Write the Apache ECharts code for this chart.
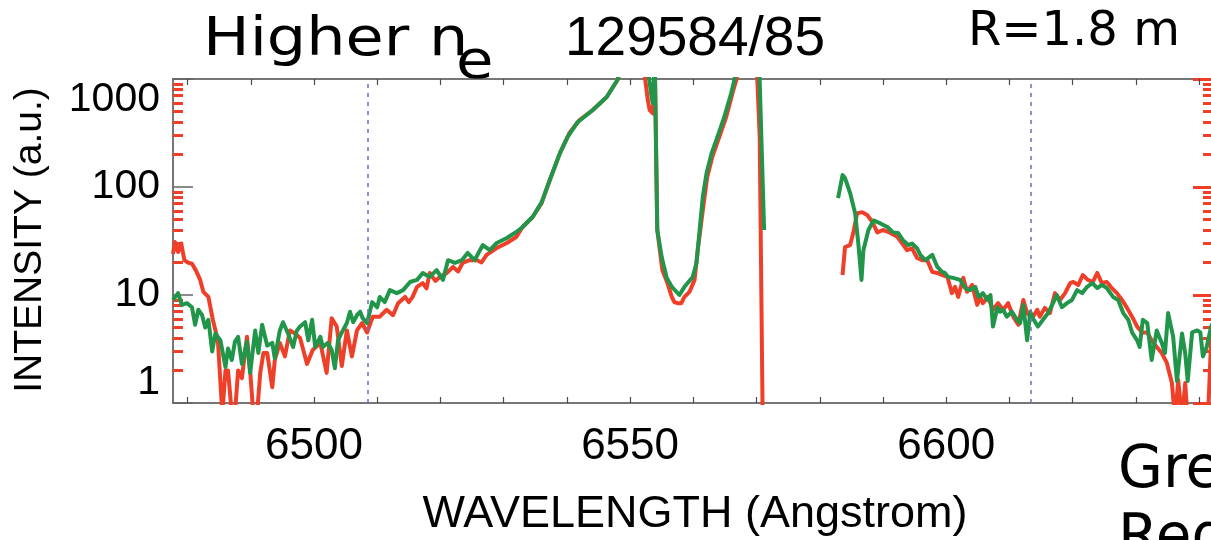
<!DOCTYPE html>
<html>
<head>
<meta charset="utf-8">
<script src="https://cdn.jsdelivr.net/npm/echarts@6.0.0/dist/echarts.min.js"></script>
<style>
html,body{margin:0;padding:0;overflow:hidden;background:#fff;}
#chart{width:1214px;height:540px;}
</style>
</head>
<body>
<div id="chart"></div>
<script>
// ---- data (wavelength in Angstrom, intensity in a.u.) ----
var xRange = [6477.7, 6642.2];
var xTickValues = [6480,6490,6500,6510,6520,6530,6540,6550,6560,6570,6580,6590,6600,6610,6620,6630,6640];
var xLabelValues = [6500, 6550, 6600];
var yMajorValues = [1, 10, 100, 1000];
var yMinorValues = [2,3,4,5,6,7,8,9,20,30,40,50,60,70,80,90,200,300,400,500,600,700,800,900];
var dashedLines = [6508.5, 6613.4];

var redSpectrum = [
[6477.7,24],[6478.0,31],[6478.5,25],[6479.0,30],[6479.5,21],[6480.0,20],[6480.7,19.5],[6481.3,17],[6482.0,13.8],[6482.5,10.7],
[6483.3,9.6],[6484.0,5.9],[6484.8,3.8],[6485.5,0.8],[6486.0,2.0],[6486.4,2.0],[6487.0,0.8],[6487.5,0.8],[6488.0,2.0],[6488.6,1.7],
[6489.4,4.1],[6489.9,2.0],[6490.4,0.8],[6491.0,0.8],[6491.5,1.9],[6492.0,2.9],[6492.6,2.9],[6493.4,1.4],[6493.8,2.5],[6494.6,3.6],
[6495.4,2.7],[6496.2,4.7],[6497.0,4.4],[6497.8,4.0],[6498.9,2.3],[6499.8,3.1],[6501.0,3.6],[6502.0,1.9],[6502.8,6.1],[6503.6,5.1],
[6504.4,2.2],[6505.2,4.7],[6506.0,2.7],[6506.8,4.7],[6507.6,5.5],[6508.4,4.5],[6509.3,6.3],[6510.4,6.3],[6511.5,7.3],[6512.5,6.5],
[6513.3,8.4],[6514.4,9.6],[6515.0,8.6],[6515.6,9.6],[6516.3,11.9],[6517.2,12.9],[6517.8,11.5],[6518.3,16],[6519.2,13.5],[6519.9,14.7],
[6521.0,16],[6522.0,18.2],[6522.8,16.5],[6523.5,19.8],[6524.6,21],[6525.8,21],[6526.5,20],[6527.3,23.5],[6528.9,27.2],[6530.5,30.3],
[6532.0,34.4],[6533.0,42.6],[6534.6,52.7],[6536.0,71],[6537.3,116],[6538.9,206],[6540.4,316],[6542.0,417],[6544.1,516],[6546.3,681],
[6548.0,980],[6549.0,1500],[6552.0,1500],[6552.8,640],[6553.1,516],[6553.6,480],[6553.9,1500],[6554.1,1500],[6554.3,40],[6555.1,17],
[6555.9,12.9],[6556.6,9.6],[6557.0,8.6],[6557.5,8.4],[6558.1,8.4],[6558.6,9.6],[6559.4,10.7],[6560.2,13.8],[6560.7,26],[6561.5,61],
[6562.2,124],[6563.0,190],[6564.1,290],[6565.2,445],[6566.2,742],[6566.8,980],[6567.5,1500],[6570.0,1500],[6570.5,290],[6571.0,0.5],
[6577.0,null],
[6583.6,15.3],[6584.0,27.8],[6584.8,29],[6585.3,37.5],[6585.9,57],[6586.7,58.5],[6587.5,55],[6588.3,47.5],[6589.1,38],[6590.0,40],
[6591.2,37.5],[6592.3,34.4],[6593.0,30.3],[6593.8,26],[6594.6,27],[6595.4,22],[6596.2,21],[6597.0,21],[6597.8,16.3],[6598.6,16],
[6599.4,15.3],[6600.2,14.7],[6600.9,10.4],[6601.4,11.9],[6601.9,9.6],[6602.7,14.4],[6603.3,10.7],[6604.1,12.4],[6604.9,8.1],[6605.4,9.6],
[6605.8,8.4],[6606.6,9.6],[6607.4,7.3],[6608.2,8.4],[6609.0,7.3],[6609.8,8.4],[6610.6,6.3],[6611.4,5.3],[6612.2,9.0],[6612.8,6.8],
[6613.6,6.1],[6614.4,7.3],[6614.8,6.3],[6615.6,7.6],[6616.4,6.8],[6617.2,10.4],[6618.0,9.0],[6618.8,10.4],[6619.6,12.9],[6620.1,13.2],
[6620.9,12.4],[6621.6,15.3],[6622.4,13.8],[6623.2,13.2],[6623.9,16],[6624.6,12.9],[6625.4,13.2],[6626.2,11.6],[6627.0,10.4],[6627.8,9.0],
[6628.6,7.6],[6629.4,6.3],[6630.2,5.1],[6631.0,4.5],[6631.8,4.5],[6632.5,3.8],[6633.3,3.3],[6634.1,2.9],[6634.9,2.35],[6635.7,1.53],
[6636.2,0.7],[6636.7,1.63],[6637.3,0.7],[6637.8,1.53],[6638.2,0.7],[6638.9,0.7],[6640.2,0.7],[6641.4,0.7],[6641.9,3.8],[6642.4,4]
];

var greenSpectrum = [
[6477.7,9.0],[6478.5,10.4],[6479.1,8.1],[6479.9,8.4],[6480.7,7.7],[6481.2,5.3],[6481.7,7.3],[6482.3,6.5],[6482.8,5.0],[6483.3,5.9],
[6483.9,3.0],[6484.4,4.4],[6485.2,3.8],[6486.0,2.15],[6486.4,3.2],[6487.0,2.5],[6487.5,3.7],[6488.0,4.1],[6488.6,2.3],[6489.4,3.7],
[6489.9,1.9],[6490.7,4.7],[6491.2,2.9],[6491.8,5.3],[6492.6,3.4],[6493.4,3.6],[6493.8,2.6],[6494.6,4.7],[6495.1,5.6],[6495.9,4.4],
[6496.7,3.3],[6497.3,4.7],[6497.8,5.1],[6498.6,5.6],[6499.1,3.8],[6499.7,5.9],[6500.2,3.3],[6501.0,4.1],[6501.4,3.3],[6502.2,3.6],
[6502.8,3.1],[6503.3,2.1],[6503.8,3.8],[6504.4,4.5],[6505.2,5.5],[6505.7,7.0],[6506.2,5.6],[6506.8,6.5],[6507.3,7.0],[6507.7,6.1],
[6508.4,5.5],[6509.2,8.6],[6510.0,7.7],[6510.4,9.6],[6511.2,8.6],[6512.0,11.1],[6513.1,10.4],[6514.1,11.1],[6515.2,13.2],[6516.3,13.8],
[6517.2,16],[6518.3,14.7],[6519.4,17],[6520.4,13.8],[6521.2,21],[6522.3,19.8],[6523.4,21],[6524.3,24.5],[6525.4,21],[6526.7,29],
[6527.8,26],[6528.9,30.3],[6530.5,33.7],[6532.0,38.3],[6533.0,42.6],[6534.6,53],[6536.0,72],[6537.3,116],[6538.9,206],[6540.1,290],
[6541.7,398],[6544.1,516],[6546.3,681],[6548.0,980],[6549.0,1500],[6552.6,1500],[6553.4,681],[6553.6,600],[6553.9,1500],[6554.1,1500],
[6554.3,40],[6555.0,22.5],[6555.8,14.4],[6556.6,11.9],[6557.8,10],[6558.6,11.9],[6559.1,12.9],[6559.9,14.7],[6560.5,19.8],[6561.0,40],
[6561.5,81],[6562.1,135],[6562.9,206],[6563.8,290],[6564.9,445],[6566.0,742],[6566.5,980],[6567.0,1500],[6570.4,1500],[6571.2,40],
[6577.0,null],
[6582.9,79],[6583.6,129],[6584.0,121],[6584.8,88],[6585.6,57],[6586.1,30],[6586.6,13.8],[6586.9,26],[6587.7,40],[6588.5,49],
[6589.6,46],[6590.7,42.6],[6591.6,38],[6592.4,37.5],[6593.2,32],[6594.0,29],[6594.6,30],[6595.4,27],[6595.9,23.5],[6596.7,21],
[6597.8,23.5],[6598.6,18.2],[6599.4,16.3],[6599.8,16],[6600.3,14.7],[6601.1,14.4],[6602.2,13.8],[6603.0,11.6],[6603.8,11.1],[6604.6,11.9],
[6605.1,9.6],[6605.8,10.4],[6606.5,9.0],[6607.0,10],[6607.4,5.1],[6608.1,7.7],[6608.5,7],[6609.0,7.3],[6609.6,6.3],[6610.4,7],
[6611.2,5.9],[6611.7,5.5],[6612.2,8.1],[6612.8,3.8],[6613.3,7],[6613.7,6.1],[6614.5,5.1],[6615.3,5.9],[6616.1,6.8],[6616.9,8.4],
[6617.5,10],[6618.3,7.7],[6619.1,8.4],[6619.9,9.0],[6620.7,11.1],[6621.5,10.4],[6622.3,11.9],[6623.1,12.9],[6623.9,11.6],[6624.6,12.4],
[6625.4,11.6],[6626.4,9.6],[6627.2,9.0],[6628.0,6.8],[6628.8,5.9],[6629.4,4.5],[6630.2,3.8],[6630.6,3.3],[6631.1,5.9],[6631.8,5.5],
[6632.5,2.5],[6633.3,4.7],[6634.1,3.6],[6634.6,2.9],[6635.1,6.8],[6635.9,4.1],[6636.5,1.6],[6637.3,4.4],[6637.8,2.9],[6638.2,1.6],
[6638.9,4.5],[6639.7,4.7],[6640.2,4.5],[6640.6,2.7],[6641.2,3.3],[6641.9,5.1],[6642.4,5.9]
];

// ---- styles ----
var RED = '#ef3f28', GREEN = '#21964a', AXIS = '#4a4a4a', DASH = '#7474c2';
var ARIAL = '"Liberation Sans", Arial, sans-serif';
var GOTHIC = '"DejaVu Sans", sans-serif';
function plain(v) { return String(Math.round(v)); }

var chart = echarts.init(document.getElementById('chart'), null, {renderer: 'canvas'});

function yAxisBase(pos) {
  return {
    type: 'log', logBase: 10, min: 1, max: 1000, position: pos,
    splitLine: {show: false}, minorTick: {show: false}, minorSplitLine: {show: false}
  };
}

var option = {
  animation: false,
  backgroundColor: '#fff',
  grid: {left: 173, top: 79, right: 1, bottom: 137, containLabel: false},
  xAxis: [
    {
      type: 'value', min: xRange[0], max: xRange[1], position: 'bottom',
      axisLine: {show: true, lineStyle: {color: AXIS, width: 1.5}},
      axisTick: {show: true, inside: true, length: 6, customValues: xTickValues, lineStyle: {color: AXIS, width: 1.2}},
      axisLabel: {show: true, customValues: xLabelValues, formatter: plain, margin: 22, fontSize: 44, fontFamily: ARIAL, color: '#000'},
      splitLine: {show: false}
    },
    {
      type: 'value', min: xRange[0], max: xRange[1], position: 'top',
      axisLine: {show: true, lineStyle: {color: AXIS, width: 1.5}},
      axisTick: {show: true, inside: true, length: 6, customValues: xTickValues, lineStyle: {color: AXIS, width: 1.2}},
      axisLabel: {show: false},
      splitLine: {show: false}
    }
  ],
  yAxis: [
    Object.assign(yAxisBase('left'), {
      axisLine: {show: true, lineStyle: {color: AXIS, width: 1.5}},
      axisTick: {show: true, inside: true, length: 20, customValues: yMajorValues, lineStyle: {color: '#666', width: 1.5}},
      axisLabel: {show: true, formatter: plain, margin: 13, fontSize: 41, fontFamily: ARIAL, color: '#000',
                  verticalAlignMinLabel: 'bottom', verticalAlignMaxLabel: 'top'}
    }),
    Object.assign(yAxisBase('left'), {
      axisLine: {show: false},
      axisTick: {show: true, inside: true, length: 10, customValues: yMinorValues, lineStyle: {color: RED, width: 3}},
      axisLabel: {show: false}
    }),
    Object.assign(yAxisBase('right'), {
      axisLine: {show: true, lineStyle: {color: AXIS, width: 1.5}},
      axisTick: {show: true, inside: true, length: 20, customValues: yMajorValues, lineStyle: {color: RED, width: 3}},
      axisLabel: {show: false}
    }),
    Object.assign(yAxisBase('right'), {
      axisLine: {show: false},
      axisTick: {show: true, inside: true, length: 10, customValues: yMinorValues, lineStyle: {color: RED, width: 3}},
      axisLabel: {show: false}
    })
  ],
  series: [
    {
      name: 'Red', type: 'line', xAxisIndex: 0, yAxisIndex: 0,
      data: redSpectrum, showSymbol: false, symbol: 'none', clip: true, connectNulls: false,
      lineStyle: {color: RED, width: 4, join: 'round'}, z: 3,
      markLine: {
        silent: true, symbol: ['none', 'none'], label: {show: false},
        lineStyle: {color: DASH, width: 1.6, type: [4, 5]},
        data: dashedLines.map(function (v) { return {xAxis: v}; })
      }
    },
    {
      name: 'Green', type: 'line', xAxisIndex: 0, yAxisIndex: 0,
      data: greenSpectrum, showSymbol: false, symbol: 'none', clip: true, connectNulls: false,
      lineStyle: {color: GREEN, width: 4, join: 'round'}, z: 4
    }
  ],
  graphic: [
    {type: 'text', x: 203, y: 41, scaleX: 1.17, style: {text: 'Higher n', font: '53px ' + GOTHIC, fill: '#000', align: 'left', verticalAlign: 'middle'}},
    {type: 'text', x: 456, y: 64, scaleX: 1.15, style: {text: 'e', font: '53px ' + GOTHIC, fill: '#000', align: 'left', verticalAlign: 'middle'}},
    {type: 'text', x: 565, y: 40, style: {text: '129584/85', font: '55px ' + ARIAL, fill: '#000', align: 'left', verticalAlign: 'middle'}},
    {type: 'text', x: 968, y: 33, style: {text: 'R=1.8 m', font: '48px ' + GOTHIC, fill: '#000', align: 'left', verticalAlign: 'middle'}},
    {type: 'text', x: 30, y: 240, rotation: Math.PI / 2, style: {text: 'INTENSITY (a.u.)', font: '39px ' + ARIAL, fill: '#000', align: 'center', verticalAlign: 'middle'}},
    {type: 'text', x: 695, y: 515, style: {text: 'WAVELENGTH (Angstrom)', font: '45px ' + ARIAL, fill: '#000', align: 'center', verticalAlign: 'middle'}},
    {type: 'text', x: 1118, y: 472, style: {text: 'Green', font: '58px ' + GOTHIC, fill: '#000', align: 'left', verticalAlign: 'middle'}},
    {type: 'text', x: 1118, y: 540, style: {text: 'Red', font: '58px ' + GOTHIC, fill: '#000', align: 'left', verticalAlign: 'middle'}}
  ]
};
chart.setOption(option);
</script>
</body>
</html>
